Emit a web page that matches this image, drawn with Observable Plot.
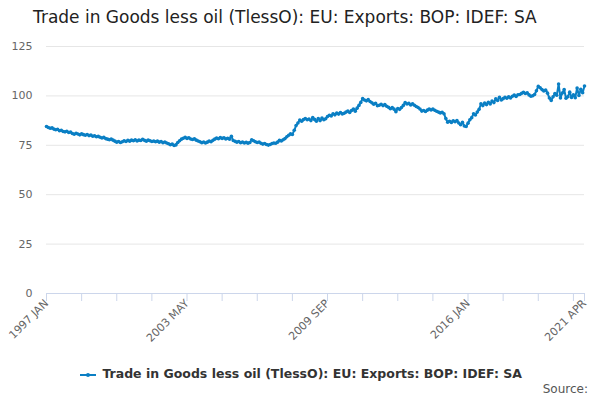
<!DOCTYPE html>
<html><head><meta charset="utf-8">
<script src="https://cdn.jsdelivr.net/npm/d3@7"></script>
<script src="https://cdn.jsdelivr.net/npm/@observablehq/plot@0.6"></script>
<style>
body{margin:0;font-family:"DejaVu Sans",sans-serif;background:#fff;width:600px;height:400px;position:relative;overflow:hidden}
#title{position:absolute;left:33px;top:7px;font-size:17px;color:#222}
#chart{position:absolute;left:0;top:36px}
#legend{position:absolute;top:366px;left:0;width:600px;text-align:center;font-size:12.5px;font-weight:bold;color:#333}
#src{position:absolute;right:12px;top:382px;font-size:12px;color:#555}
</style></head><body>
<div id="title">Trade in Goods less oil (TlessO): EU: Exports: BOP: IDEF: SA</div>
<div id="chart"></div>
<div id="legend"><svg width="20" height="10" style="vertical-align:middle"><line x1="2" x2="18" y1="5" y2="5" stroke="#0a7fc4" stroke-width="2"/><circle cx="10" cy="5" r="2" fill="#0a7fc4"/></svg> Trade in Goods less oil (TlessO): EU: Exports: BOP: IDEF: SA</div>
<div id="src">Source:</div>
<script>
const seriesName = "Trade in Goods less oil (TlessO): EU: Exports: BOP: IDEF: SA";
const monthNames = ["JAN","FEB","MAR","APR","MAY","JUN","JUL","AUG","SEP","OCT","NOV","DEC"];
const startYear = 1997;
const values = [
  84.5,84,83.6,83.8,83.2,82.9,83.1,82.4,82.6,82,81.8,82.1,
  81.5,81.7,81,80.6,81.1,80.7,80.3,80.8,80.4,80.1,80.5,79.9,
  80.2,79.6,79.8,79.3,79.5,79.1,78.7,79,78.4,78.1,77.8,78.2,
  77.6,77.1,76.6,76.9,76.4,76.8,77.3,76.9,77.5,77.1,77.6,77.3,
  77.8,77.2,77.6,77.4,78,77.5,77.1,77.6,77.3,76.9,77.2,76.8,
  77.1,76.6,76.9,76.3,76.7,76.2,75.8,75.3,75.6,74.9,75.2,76.4,
  77.3,78.1,78.6,79,78.5,78.8,78.2,77.9,78.3,77.6,77.2,76.8,
  76.3,76.7,76.2,76.6,77.2,76.8,77.5,78.1,78.7,78.3,78.9,78.5,
  78.8,78.2,78.6,78.1,79.6,77.4,77,76.6,76.9,76.3,76.7,76.2,
  76.5,76.1,76.4,77.8,77.3,76.8,76.4,76.7,76,75.6,75.9,75.4,
  75.1,75.4,75.9,76.2,76,76.6,77.5,77.2,77.8,78.4,79.3,80.1,
  80.8,80.5,82.6,85,86.3,87.8,87.2,88,88.6,87.9,88.3,87.5,
  89,88.1,87.2,88.6,87.5,88.8,87.9,88.4,89.6,90.2,89.8,91,
  90.4,91.3,90.8,91.6,90.9,91.2,91.8,92.3,91.6,92.6,93.4,92.2,
  93.8,95.2,96.7,98.6,97.9,97.5,98.1,97.2,96.5,95.8,96.3,95,
  95.3,95.8,95.1,95.6,94.8,94.2,93.5,94.1,93.3,92,93.6,93.2,
  94.1,95.2,96.6,95.9,96.2,95.4,96,95.3,94.6,94.1,93.4,92.3,
  92.6,92.1,92.8,93.4,92.9,93.3,92.7,92.2,91.8,91.4,91.7,91,
  88.5,86.7,87.2,86.6,87.4,86.9,87.5,86.3,85.4,86.6,84.8,84.5,
  86.2,87.9,89,91,90.3,91.8,93.2,96,95.1,96.4,95.6,96.8,
  95.9,97.4,96.6,98.5,97.7,99.3,97.9,98.6,99.3,98.8,99.6,98.9,
  99.8,100.4,99.7,100.6,100.7,101.3,101.8,101.2,101.6,100.5,99.8,100.1,
  100.7,102.6,104.8,104.1,103.2,102.5,102.9,101.4,98.9,97.7,99.6,101.2,
  100.3,106,99,101.5,103.2,98.8,99.6,101.9,99.2,100.5,99.1,104,
  100.2,103.4,101.6,105
];
const yTicks = [0,25,50,75,100,125];
const tickStep = 19;
const labelEvery = 4;

const data = values.map((v,i)=>({i, v, name: seriesName}));
const last = values.length - 1;
const ticks = d3.range(0, last, tickStep).concat([last]);
const labelTicks = ticks.filter((t,k)=> k % labelEvery === 0 || t === last);
const fmt = i => `${startYear + Math.floor(i/12)} ${monthNames[i%12]}`;

const chart = Plot.plot({
  width: 600, height: 325,
  marginLeft: 46, marginRight: 16, marginTop: 10, marginBottom: 68,
  style: {fontFamily: "DejaVu Sans", fontSize: "11px", color: "#666"},
  x: {domain: [0, last]},
  y: {domain: [0, 125]},
  marks: [
    Plot.gridY(yTicks, {stroke: "#e6e6e6", strokeOpacity: 1}),
    Plot.axisY(yTicks, {tickSize: 0, tickPadding: 14, label: null, fill: "#666"}),
    Plot.ruleY([0], {stroke: "#ccd6eb"}),
    Plot.axisX(ticks, {tickSize: 8, stroke: "#ccd6eb", text: null, label: null}),
    Plot.axisX(labelTicks, {tickSize: 0, tickFormat: fmt, tickRotate: -45, textAnchor: "end", tickPadding: 8, label: null, fill: "#666", fontSize: 11}),
    Plot.line(data, {x: "i", y: "v", stroke: "#0a7fc4", strokeWidth: 2}),
    Plot.dot(data, {x: "i", y: "v", fill: "#0a7fc4", r: 1.8})
  ]
});
d3.select("#chart").append(() => chart);
</script>
</body></html>
